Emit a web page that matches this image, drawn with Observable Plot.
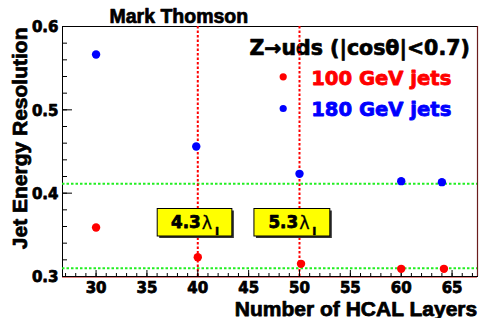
<!DOCTYPE html>
<html><head><meta charset="utf-8">
<script src="https://cdn.jsdelivr.net/npm/d3@7"></script>
<script src="https://cdn.jsdelivr.net/npm/@observablehq/plot@0.6"></script>
<style>body{margin:0;background:#fff}</style>
</head><body><div id="chart"></div>
<script>
// Data
const layers100 = [30, 40, 50.15, 60, 64.2];
const res100 = [0.3588, 0.3232, 0.3152, 0.3092, 0.3092];
const layers180 = [30, 39.85, 50, 60, 64];
const res180 = [0.5664, 0.456, 0.4232, 0.4144, 0.4132];
const greenLevels = [0.4112, 0.3100];
const redLayers = [40, 50];
const boxX1 = [36.06, 45.57];
const boxX2 = [43.40, 53.03];
const boxY1 = [0.348, 0.348];
const boxY2 = [0.381, 0.381];
const boxLabels = ["4.3", "5.3"];
const xMajor = [30, 35, 40, 45, 50, 55, 60, 65];
const xMinor = d3.range(27, 68);
const yMajor = [0.3, 0.4, 0.5, 0.6];
const yMinor = d3.range(0, 16).map(i => 0.3 + 0.02 * i);
const xDomain = [26.7, 67.5];
const yDomain = [0.3, 0.6];
const legendLabels = ["100 GeV jets", "180 GeV jets"];
const legendColors = ["#ff0000", "#0000ff"];
const legendTitle = "Z\u2192uds (|cos\u03b8|<0.7)";
const title = "Mark Thomson";
const xLabel = "Number of HCAL Layers";
const yLabel = "Jet Energy Resolution";

const pts100 = layers100.map((x, i) => ({x, y: res100[i]}));
const pts180 = layers180.map((x, i) => ({x, y: res180[i]}));
const boxes = boxX1.map((x1, i) => ({x1, x2: boxX2[i], y1: boxY1[i], y2: boxY2[i], xc: (x1 + boxX2[i]) / 2, yc: (boxY1[i] + boxY2[i]) / 2, label: boxLabels[i]}));

const W = 480, H = 318, mL = 62, mR = 3, mT = 26, mB = 42;
const fw = W - mL - mR, fh = H - mT - mB;
const dv = "DejaVu Sans", ar = "Liberation Sans, Arial, sans-serif";
const heavy = (color, w = 0.6) => ({fill: color, stroke: color, strokeWidth: w, paintOrder: "normal"});

const marks = [
  Plot.frame({stroke: "black", strokeWidth: 1}),
  // legend (drawn beneath the dotted lines)
  Plot.text([legendTitle], {frameAnchor: "top-right", textAnchor: "end", lineAnchor: "bottom", dx: -7.7, dy: 28.7, fontFamily: dv, fontWeight: "bold", fontSize: 20.5, ...heavy("black", 0.7)}),
  ...legendLabels.map((lab, i) => Plot.text([lab], {frameAnchor: "top-left", textAnchor: "start", lineAnchor: "bottom", dx: 248.7, dy: 58.7 + 30.6 * i, fontFamily: dv, fontWeight: "bold", fontSize: 19.6, ...heavy(legendColors[i], 0.8)})),
  ...legendLabels.map((lab, i) => Plot.dot([lab], {frameAnchor: "top-left", dx: 220.7, dy: 50.3 + 31.7 * i, r: 3.6, fill: legendColors[i], stroke: "none"})),
  // dotted reference lines
  Plot.ruleY(greenLevels, {stroke: "#22ee22", strokeWidth: 2, strokeDasharray: "2.5,2"}),
  Plot.ruleX(redLayers, {stroke: "#ff0000", strokeWidth: 2, strokeDasharray: "2.5,2"}),
  // ticks (inward)
  Plot.tickY(yMinor, {y: d => d, insetRight: fw - 5, stroke: "black"}),
  Plot.tickY(yMajor, {y: d => d, insetRight: fw - 10, stroke: "black"}),
  Plot.tickX(xMinor, {x: d => d, insetTop: fh - 3, stroke: "black"}),
  Plot.tickX(xMajor, {x: d => d, insetTop: fh - 6, stroke: "black"}),
  Plot.ruleX([xDomain[1]], {stroke: "#6b1c1c", strokeWidth: 1.2}),
  Plot.ruleY([yDomain[0]], {stroke: "#e08080", dy: 1}),
  Plot.ruleY([yDomain[0]], {stroke: "black"}),
  // tick labels
  Plot.text(yMajor, {y: d => d, text: d => d.toFixed(1), frameAnchor: "left", textAnchor: "end", dx: -4, dy: 1, fontFamily: dv, fontWeight: "bold", fontSize: 15, ...heavy("black", 0.75)}),
  Plot.text(xMajor, {x: d => d, text: d => String(d), frameAnchor: "bottom", lineAnchor: "top", dy: 5.5, fontFamily: dv, fontWeight: "bold", fontSize: 15, ...heavy("black", 0.75)}),
  // annotation boxes
  Plot.rect(boxes, {x1: "x1", x2: "x2", y1: "y1", y2: "y2", fill: "#333", dx: 2, dy: 2}),
  Plot.rect(boxes, {x1: "x1", x2: "x2", y1: "y1", y2: "y2", fill: "#ffff00", stroke: "black", strokeWidth: 1}),
  Plot.text(boxes, {x: "xc", y: "yc", text: "label", dx: -24, dy: 0.3, textAnchor: "start", lineAnchor: "middle", fontFamily: dv, fontWeight: "bold", fontSize: 16.8, ...heavy("black", 0.75)}),
  Plot.text(boxes, {x: "xc", y: "yc", text: () => "\u03bb", dx: 6.8, dy: 0.3, textAnchor: "start", lineAnchor: "middle", fontFamily: dv, fontWeight: "normal", fontSize: 17.5, ...heavy("black", 0.3)}),
  Plot.text(boxes, {x: "xc", y: "yc", text: () => "I", dx: 22, dy: 12.3, lineAnchor: "bottom", fontFamily: dv, fontWeight: "bold", fontSize: 11, ...heavy("black", 0.5)}),
  // data points
  Plot.dot(pts100, {x: "x", y: "y", r: 4.2, fill: "#ff0000", stroke: "none"}),
  Plot.dot(pts180, {x: "x", y: "y", r: 4.2, fill: "#0000ff", stroke: "none"}),
  // titles
  Plot.text([title], {frameAnchor: "top-left", textAnchor: "start", lineAnchor: "bottom", dx: 47, dy: -3.7, fontFamily: ar, fontWeight: "bold", fontSize: 19.5, ...heavy("black", 0.7)}),
  Plot.text([xLabel], {frameAnchor: "bottom-right", textAnchor: "end", lineAnchor: "bottom", dx: -0.3, dy: 39, fontFamily: ar, fontWeight: "bold", fontSize: 21, ...heavy("black", 0.75)}),
  Plot.text([yLabel], {frameAnchor: "top-left", rotate: -90, textAnchor: "end", lineAnchor: "bottom", dx: -35.3, dy: 1, fontFamily: ar, fontWeight: "bold", fontSize: 21, ...heavy("black", 0.75)})
];

const chart = Plot.plot({
  width: W, height: H,
  marginLeft: mL, marginRight: mR, marginTop: mT, marginBottom: mB,
  x: {domain: xDomain, axis: null},
  y: {domain: yDomain, axis: null},
  style: {background: "white", overflow: "visible"},
  marks
});
document.getElementById("chart").appendChild(chart);
</script>
</body></html>
